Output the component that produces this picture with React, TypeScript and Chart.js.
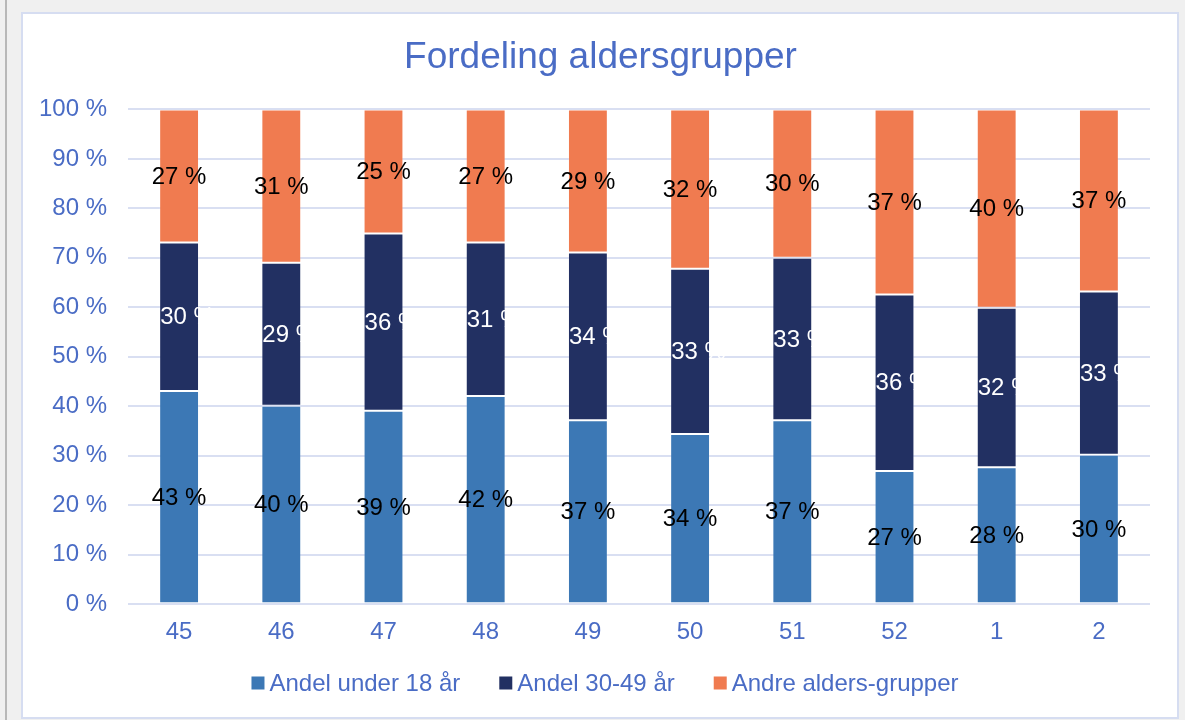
import React, { useEffect, useRef } from "react";
import { Chart, registerables } from "chart.js";

Chart.register(...registerables);

const weeks = ["45", "46", "47", "48", "49", "50", "51", "52", "1", "2"];
const under18 = [43.1, 40.1, 39.1, 42.1, 37.2, 34.4, 37.2, 26.9, 27.7, 30.2];
const age30to49 = [30.0, 28.9, 35.8, 31.0, 33.9, 33.4, 32.8, 35.7, 32.2, 33.0];
const otherGroups = [26.9, 31.0, 25.1, 26.9, 28.9, 32.2, 30.0, 37.4, 40.1, 36.8];
const seriesNames = ["Andel under 18 år", "Andel 30-49 år", "Andre alders-grupper"];
const seriesColors = ["#3C78B5", "#223062", "#F07B50"];
const yTicks = [0, 10, 20, 30, 40, 50, 60, 70, 80, 90, 100];

const FONT = "'Liberation Sans', Arial, sans-serif";
const BLUE_TEXT = "#4A6CC5";
const GRID = "#D9DFF2";

const labelColors = ["#000000", "#FFFFFF", "#000000"];
const labelStartAtBarEdge = [false, true, false];

const dataLabelPlugin = {
  id: "segLabels",
  afterDatasetsDraw(chart: any) {
    const ctx = chart.ctx;
    ctx.save();
    ctx.font = `24px ${FONT}`;
    ctx.textBaseline = "middle";
    ctx.textAlign = "left";
    chart.data.datasets.forEach((ds: any, di: number) => {
      const meta = chart.getDatasetMeta(di);
      ctx.fillStyle = labelColors[di];
      meta.data.forEach((el: any, i: number) => {
        const p = el.getProps(["x", "y", "base", "width"], true);
        const cy = (p.y + p.base) / 2;
        const txt = `${Math.round(ds.data[i])} %`;
        const w = ctx.measureText(txt).width;
        const left = labelStartAtBarEdge[di] ? p.x - p.width / 2 + 1 : p.x - w / 2;
        ctx.fillText(txt, left, cy + 1);
      });
    });
    ctx.restore();
  },
};

const titleShiftPlugin = {
  id: "titleShift",
  afterLayout(chart: any) {
    const t = chart.titleBlock;
    if (t) {
      t.left += 6;
      t.right += 6;
    }
  },
};

const legendPlugin = {
  id: "customLegend",
  afterDraw(chart: any) {
    const ctx = chart.ctx;
    ctx.save();
    ctx.font = `24px ${FONT}`;
    ctx.textBaseline = "middle";
    ctx.textAlign = "left";
    const box = 13;
    const gap = 5;
    const spacing = 39;
    const widths = chart.data.datasets.map((ds: any) => box + gap + ctx.measureText(ds.label).width);
    const total = widths.reduce((a: number, b: number) => a + b, 0) + spacing * (widths.length - 1);
    const cx = 582;
    const cy = 669;
    let x = cx - total / 2;
    chart.data.datasets.forEach((ds: any, i: number) => {
      ctx.fillStyle = ds.backgroundColor;
      ctx.fillRect(x, cy - box / 2, box, box);
      ctx.fillStyle = BLUE_TEXT;
      ctx.fillText(ds.label, x + box + gap, cy + 1);
      x += widths[i] + spacing;
    });
    ctx.restore();
  },
};

export default function App() {
  const ref = useRef<HTMLCanvasElement>(null);
  useEffect(() => {
    if (!ref.current) return;
    const chart = new Chart(ref.current, {
      type: "bar",
      data: {
        labels: weeks,
        datasets: [
          { label: seriesNames[0], data: under18, backgroundColor: seriesColors[0], borderColor: "rgba(255,255,255,0.15)", borderWidth: 1, borderSkipped: false },
          { label: seriesNames[1], data: age30to49, backgroundColor: seriesColors[1], borderColor: "rgba(255,255,255,0.15)", borderWidth: 1, borderSkipped: false },
          { label: seriesNames[2], data: otherGroups, backgroundColor: seriesColors[2], borderColor: "rgba(255,255,255,0.15)", borderWidth: 1, borderSkipped: false },
        ],
      },
      options: {
        responsive: false,
        animation: false,
        layout: { padding: { top: 0, left: 16, right: 27, bottom: 56 } },
        datasets: { bar: { categoryPercentage: 1, barPercentage: 0.39 } },
        plugins: {
          title: {
            display: true,
            text: "Fordeling aldersgrupper",
            color: BLUE_TEXT,
            font: { family: FONT, size: 37, weight: "normal" },
            padding: { top: 22, bottom: 29 },
          },
          legend: { display: false },
          tooltip: { enabled: false },
        },
        scales: {
          x: {
            stacked: true,
            grid: { display: false, drawTicks: false },
            border: { display: false },
            ticks: { color: BLUE_TEXT, font: { family: FONT, size: 24 }, padding: 14 },
          },
          y: {
            stacked: true,
            min: 0,
            max: 100,
            afterBuildTicks: (axis: any) => {
              axis.ticks = yTicks.map((v) => ({ value: v }));
            },
            afterFit: (axis: any) => {
              axis.width = 89;
            },
            grid: { color: GRID, lineWidth: 2, drawTicks: false },
            border: { display: false },
            ticks: {
              color: BLUE_TEXT,
              font: { family: FONT, size: 24 },
              padding: 21,
              callback: (v: any) => `${v} %`,
            },
          },
        },
      },
      plugins: [dataLabelPlugin, titleShiftPlugin, legendPlugin],
    });
    return () => chart.destroy();
  }, []);

  return (
    <div style={{ position: "fixed", left: 0, top: 0, width: 1185, height: 720, background: "#F0F0F0", overflow: "hidden" }}>
      <div style={{ position: "absolute", left: 5, top: 0, width: 2, height: 720, background: "#B8B8B8" }} />
      <div
        style={{
          position: "absolute",
          left: 21,
          top: 12,
          width: 1154,
          height: 703,
          border: "2px solid #D6DDF1",
          background: "#FFFFFF",
        }}
      >
        <canvas ref={ref} width={1154} height={703} style={{ display: "block" }} />
      </div>
    </div>
  );
}
